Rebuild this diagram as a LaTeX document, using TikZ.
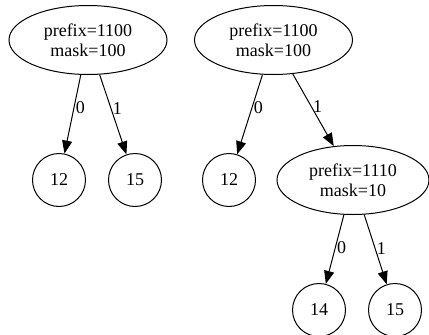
\documentclass[tikz,border=0pt]{standalone}
\usepackage{fontspec}
\setmainfont{Liberation Serif}
\usetikzlibrary{arrows.meta,shapes.geometric}
\tikzset{
  trie/.style={draw,ellipse,line width=1pt,inner sep=0pt,minimum width=158pt,minimum height=69pt,align=center},
  leaf/.style={draw,circle,line width=1pt,inner sep=0pt,minimum size=53pt},
  edge/.style={->,line width=1pt},
  bit/.style={right,inner sep=1.5pt}
}
\begin{document}
\begin{tikzpicture}[x=1pt,y=-1pt,>={Triangle[length=13pt,width=10pt]},
  font=\fontsize{18}{19.5}\selectfont]
  \useasboundingbox (0,0) rectangle (429,335);
  % first trie
  \node[trie] (lroot) at (88,40) {prefix=1100\\mask=100};
  \node[leaf] (l12) at (59,180) {12};
  \node[leaf] (l15) at (135,180) {15};
  \draw[edge] (lroot) -- node[bit,pos=0.42] {0} (l12);
  \draw[edge] (lroot) -- node[bit,pos=0.42] {1} (l15);
  % second trie
  \node[trie] (rroot) at (273.5,40) {prefix=1100\\mask=100};
  \node[leaf] (r12) at (229,180) {12};
  \node[trie,minimum width=152pt] (rmid) at (353,180) {prefix=1110\\mask=10};
  \node[leaf] (r14) at (319,310) {14};
  \node[leaf] (r15) at (395,310) {15};
  \draw[edge] (rroot) -- node[bit,pos=0.42] {0} (r12);
  \draw[edge] (rroot) -- node[bit,pos=0.45] {1} (rmid);
  \draw[edge] (rmid) -- node[bit,pos=0.48] {0} (r14);
  \draw[edge] (rmid) -- node[bit,pos=0.48] {1} (r15);
\end{tikzpicture}
\end{document}
